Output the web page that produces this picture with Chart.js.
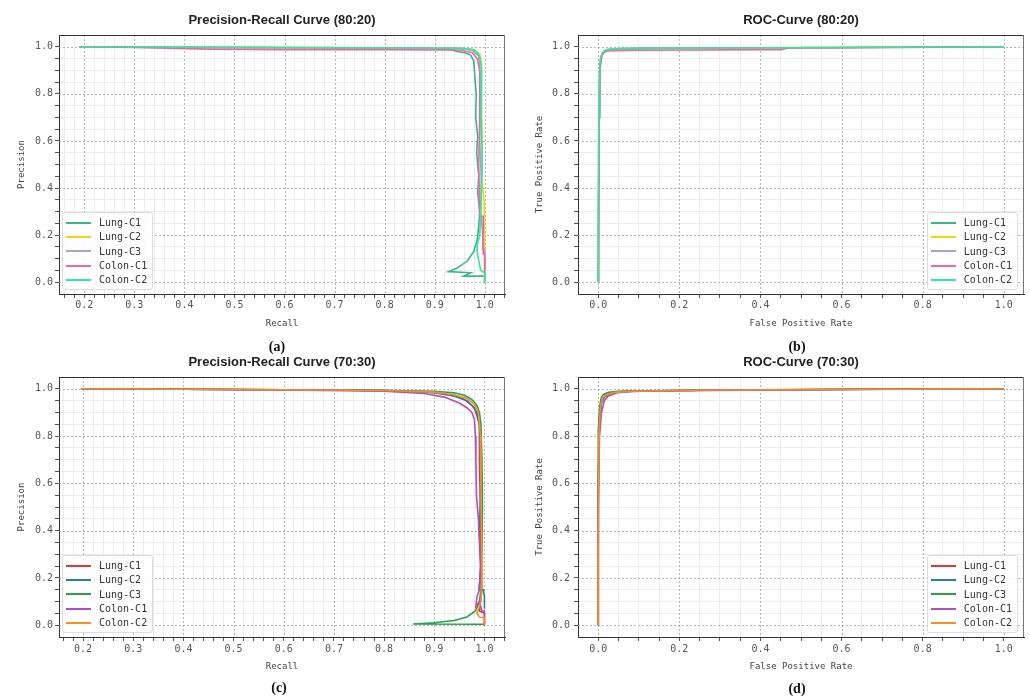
<!DOCTYPE html>
<html>
<head>
<meta charset="utf-8">
<title>PR / ROC curves</title>
<script src="https://cdn.jsdelivr.net/npm/chart.js@4"></script>
<style>
  body { margin: 0; width: 1030px; height: 698px; background: #fff; position: relative; overflow: hidden; }
  .panel { position: absolute; }
  .caption { position: absolute; font: bold 14px "Liberation Serif", "Times New Roman", serif; color: #111; transform: translateX(-50%); line-height: 14px; z-index: 5; }
  .legend { position: absolute; background: rgba(255,255,255,0.85); border: 1px solid #dcdcdc; border-radius: 3px;
            padding: 3px 5px 2px 3px; font: 10px "DejaVu Sans Mono", monospace; color: #333; }
  .legend .row { display: flex; align-items: center; height: 14.3px; white-space: nowrap; }
  .legend .swatch { display: inline-block; width: 25px; height: 2px; margin-right: 8px; }
</style>
</head>
<body>

<div class="panel" id="pa" style="left:0;top:0;width:515px;height:345px"><canvas id="chartA" width="515" height="345"></canvas></div>
<div class="panel" id="pb" style="left:515px;top:0;width:515px;height:345px"><canvas id="chartB" width="515" height="345"></canvas></div>
<div class="panel" id="pc" style="left:0;top:345px;width:515px;height:353px"><canvas id="chartC" width="515" height="353"></canvas></div>
<div class="panel" id="pd" style="left:515px;top:345px;width:515px;height:353px"><canvas id="chartD" width="515" height="353"></canvas></div>

<div class="caption" style="left:277px;top:340px">(a)</div>
<div class="caption" style="left:797px;top:340px">(b)</div>
<div class="caption" style="left:279px;top:681px">(c)</div>
<div class="caption" style="left:797px;top:682px">(d)</div>

<script>
// ---------- data ----------
const seriesNames = ['Lung-C1', 'Lung-C2', 'Lung-C3', 'Colon-C1', 'Colon-C2'];
const colors8020 = ['#3bb391', '#f2d60c', '#ab9fd8', '#f2679d', '#2ee8a5'];
const colors7030 = ['#ee3333', '#2b7bba', '#23a548', '#b04fbf', '#ff8c1f'];

const prMajorX = [0.2, 0.3, 0.4, 0.5, 0.6, 0.7, 0.8, 0.9, 1.0];
const rocMajorX = [0.0, 0.2, 0.4, 0.6, 0.8, 1.0];
const majorY = [0.0, 0.2, 0.4, 0.6, 0.8, 1.0];

// (a) Precision-Recall 80:20  [recall, precision]
const prA_lungC1 = [[0.19,1.0],[0.3,0.999],[0.5,0.997],[0.7,0.995],[0.85,0.994],[0.93,0.99],[0.945,0.98],[0.96,0.975],[0.972,0.965],
  [0.978,0.94],[0.98,0.88],[0.983,0.8],[0.982,0.7],[0.986,0.62],[0.984,0.55],[0.988,0.45],[0.986,0.38],[0.99,0.3],[0.988,0.24],
  [0.985,0.18],[0.978,0.13],[0.965,0.09],[0.945,0.06],[0.928,0.045],[0.972,0.04],[0.958,0.026],[1.0,0.026],[1.0,0.0]];
const prA_lungC2 = [[0.19,1.0],[0.5,0.998],[0.8,0.996],[0.95,0.994],[0.975,0.99],[0.99,0.97],[0.993,0.93],[0.993,0.8],[0.995,0.6],
  [0.994,0.45],[0.998,0.36],[0.999,0.34],[0.999,0.19],[1.0,0.15],[1.0,0.0]];
const prA_lungC3 = [[0.19,1.0],[0.5,0.997],[0.8,0.995],[0.95,0.993],[0.975,0.985],[0.988,0.96],[0.99,0.9],[0.992,0.75],[0.99,0.6],
  [0.993,0.45],[0.992,0.3],[0.996,0.2],[0.996,0.14],[1.0,0.14],[1.0,0.0]];
const prA_colonC1 = [[0.19,1.0],[0.3,0.997],[0.45,0.99],[0.6,0.988],[0.8,0.988],[0.9,0.986],[0.95,0.986],[0.975,0.975],[0.985,0.95],
  [0.99,0.9],[0.99,0.7],[0.988,0.5],[0.99,0.28],[0.997,0.28],[0.997,0.12],[1.0,0.12],[1.0,0.0]];
const prA_colonC2 = [[0.19,1.0],[0.4,0.999],[0.7,0.997],[0.9,0.995],[0.96,0.993],[0.98,0.985],[0.99,0.96],[0.994,0.9],[0.993,0.7],
  [0.995,0.5],[0.993,0.35],[0.99,0.2],[0.985,0.16],[0.985,0.125],[0.992,0.05],[1.0,0.04],[1.0,0.0]];

// (b) ROC 80:20  [fpr, tpr]
const rocB_lungC1 = [[0,0],[0,0.05],[0.002,0.7],[0.004,0.9],[0.008,0.96],[0.015,0.98],[0.03,0.99],[0.1,0.993],[0.3,0.995],[0.6,0.997],[1.0,1.0]];
const rocB_lungC2 = [[0,0],[0.001,0.6],[0.003,0.88],[0.006,0.95],[0.012,0.975],[0.025,0.988],[0.08,0.992],[0.3,0.995],[0.5,0.997],[1.0,1.0]];
const rocB_lungC3 = [[0,0],[0.001,0.65],[0.003,0.9],[0.007,0.96],[0.015,0.98],[0.04,0.99],[0.2,0.994],[0.9,0.998],[1.0,1.0]];
const rocB_colonC1 = [[0,0],[0.002,0.7],[0.005,0.93],[0.01,0.97],[0.02,0.982],[0.1,0.985],[0.45,0.988],[0.47,0.995],[1.0,1.0]];
const rocB_colonC2 = [[0,0],[0,0.3],[0.002,0.8],[0.005,0.95],[0.01,0.975],[0.02,0.988],[0.06,0.993],[0.4,0.996],[1.0,1.0]];

// (c) Precision-Recall 70:30
const prC_lungC1 = [[0.197,1.0],[0.4,0.998],[0.6,0.996],[0.8,0.993],[0.9,0.985],[0.94,0.97],[0.96,0.955],[0.975,0.93],[0.985,0.9],
  [0.99,0.85],[0.99,0.7],[0.992,0.5],[0.993,0.3],[0.995,0.15],[0.99,0.06],[1.0,0.05],[1.0,0.0]];
const prC_lungC2 = [[0.197,1.0],[0.4,0.998],[0.6,0.996],[0.8,0.993],[0.9,0.984],[0.94,0.97],[0.965,0.95],[0.98,0.92],[0.99,0.85],
  [0.993,0.6],[0.99,0.4],[0.993,0.25],[0.989,0.15],[0.998,0.15],[1.0,0.12],[1.0,0.07]];
const prC_lungC3 = [[0.197,1.0],[0.4,0.998],[0.6,0.996],[0.8,0.994],[0.9,0.99],[0.94,0.983],[0.96,0.973],[0.975,0.955],[0.985,0.93],
  [0.99,0.9],[0.993,0.85],[0.995,0.7],[0.996,0.5],[0.995,0.3],[0.993,0.15],[0.99,0.1],[0.982,0.06],[0.965,0.035],[0.94,0.02],
  [0.9,0.01],[0.858,0.005],[1.0,0.004]];
const prC_colonC1 = [[0.197,1.0],[0.4,0.998],[0.6,0.995],[0.8,0.99],[0.88,0.98],[0.92,0.965],[0.95,0.94],[0.965,0.92],[0.975,0.9],
  [0.98,0.87],[0.982,0.8],[0.983,0.7],[0.984,0.55],[0.988,0.45],[0.99,0.35],[0.992,0.25],[0.99,0.15],[0.985,0.12],[0.983,0.08],
  [0.99,0.1],[0.995,0.06],[1.0,0.06],[1.0,0.0]];
const prC_colonC2 = [[0.197,1.0],[0.4,0.998],[0.6,0.996],[0.8,0.993],[0.9,0.986],[0.94,0.975],[0.965,0.96],[0.98,0.935],[0.988,0.9],
  [0.992,0.8],[0.993,0.6],[0.994,0.4],[0.995,0.2],[0.993,0.1],[0.985,0.05],[0.99,0.035],[1.0,0.03],[1.0,0.0]];

// (d) ROC 70:30
const rocD_lungC1 = [[0,0],[0,0.6],[0.002,0.85],[0.006,0.93],[0.012,0.96],[0.02,0.975],[0.04,0.985],[0.08,0.99],[0.3,0.995],[0.6,0.998],[1.0,1.0]];
const rocD_lungC2 = [[0,0],[0,0.55],[0.003,0.87],[0.008,0.94],[0.015,0.965],[0.03,0.98],[0.06,0.99],[0.3,0.995],[1.0,1.0]];
const rocD_lungC3 = [[0,0],[0,0.82],[0.003,0.92],[0.007,0.96],[0.012,0.975],[0.025,0.985],[0.05,0.99],[0.2,0.994],[0.5,0.996],[0.8,1.0],[1.0,1.0]];
const rocD_colonC1 = [[0,0],[0,0.5],[0.003,0.8],[0.008,0.9],[0.015,0.95],[0.025,0.97],[0.05,0.985],[0.1,0.99],[0.4,0.995],[1.0,1.0]];
const rocD_colonC2 = [[0,0],[0,0.33],[0.002,0.82],[0.005,0.92],[0.01,0.96],[0.02,0.975],[0.04,0.985],[0.08,0.99],[0.3,0.995],[1.0,1.0]];

// ---------- helpers ----------
function isMajor(v, step) {
  return Math.abs(v / step - Math.round(v / step)) < 1e-6;
}

function minorTicks(min, max, step) {
  const out = [];
  for (let k = Math.ceil(min / step); k * step <= max; k++) {
    const v = Math.round(k * step * 1e6) / 1e6;
    if (v > min + 1e-6 && v < max - 1e-6) out.push(v);
  }
  return out;
}

// dotted major grid + plot frame
const framePlugin = {
  id: 'frame',
  beforeDatasetsDraw(chart, args, opts) {
    const { ctx, chartArea: a, scales } = chart;
    ctx.save();
    ctx.strokeStyle = '#a3a3a3';
    ctx.lineWidth = 0.8;
    ctx.setLineDash([2, 2]);
    opts.majorX.forEach(v => {
      const x = Math.round(scales.x.getPixelForValue(v)) + 0.5;
      ctx.beginPath(); ctx.moveTo(x, a.top); ctx.lineTo(x, a.bottom); ctx.stroke();
    });
    opts.majorY.forEach(v => {
      const y = Math.round(scales.y.getPixelForValue(v)) + 0.5;
      ctx.beginPath(); ctx.moveTo(a.left, y); ctx.lineTo(a.right, y); ctx.stroke();
    });
    ctx.restore();
  },
  afterDatasetsDraw(chart) {
    const { ctx, chartArea: a } = chart;
    ctx.save();
    ctx.lineWidth = 1;
    ctx.strokeStyle = '#333';
    ctx.beginPath(); ctx.moveTo(a.left, a.top + 0.5); ctx.lineTo(a.right, a.top + 0.5); ctx.stroke();
    ctx.strokeStyle = '#777';
    ctx.beginPath(); ctx.moveTo(a.right - 0.5, a.top); ctx.lineTo(a.right - 0.5, a.bottom); ctx.stroke();
    ctx.restore();
  }
};

function axisOptions(o) {
  return {
    type: 'linear',
    min: o.min,
    max: o.max,
    afterBuildTicks: s => { s.ticks = minorTicks(o.min, o.max, o.minor).map(v => ({ value: v })); },
    afterFit: s => { if (o.horizontal) s.height = o.size; else s.width = o.size; },
    ticks: {
      autoSkip: false, maxRotation: 0, padding: o.labelPad, color: '#555',
      font: { family: 'DejaVu Sans Mono', size: 10 },
      callback: v => isMajor(v, o.major) ? v.toFixed(1) : ''
    },
    grid: {
      color: c => (c.tick && isMajor(c.tick.value, o.major)) ? 'rgba(0,0,0,0)' : '#ececec',
      lineWidth: 1, tickLength: 4, tickColor: '#555'
    },
    border: { color: '#333', width: 1 },
    title: {
      display: true, text: o.title, color: '#444',
      font: { family: 'DejaVu Sans Mono', size: 9 },
      padding: o.titlePad
    }
  };
}

function drawPanel(id, p) {
  const datasets = p.series.map((pts, i) => ({
    label: seriesNames[i],
    data: pts.map(q => ({ x: q[0], y: q[1] })),
    borderColor: p.colors[i],
    backgroundColor: p.colors[i],
    borderWidth: 1.6,
    pointRadius: 0,
    showLine: true,
    tension: 0,
    order: -i
  }));

  const chart = new Chart(document.getElementById(id), {
    type: 'scatter',
    data: { datasets: datasets },
    options: {
      responsive: false,
      animation: false,
      events: [],
      layout: { padding: { left: 0, right: p.padRight, top: 0, bottom: 0 } },
      plugins: {
        legend: { display: false },
        tooltip: { enabled: false },
        title: {
          display: true, text: p.title, fullSize: false, color: '#222',
          font: { family: 'Liberation Sans, Arial, sans-serif', size: 13, weight: 'bold' },
          padding: { top: p.titleTop, bottom: p.titleBottom }
        },
        frame: { majorX: p.majorX, majorY: majorY }
      },
      scales: {
        x: axisOptions({ horizontal: true, min: p.xMin, max: p.xMax, minor: p.xMinor, major: p.xMajor,
                         size: p.xHeight, labelPad: p.xLabelPad, title: p.xTitle, titlePad: { top: 0, bottom: p.xTitleBottom } }),
        y: axisOptions({ horizontal: false, min: -0.05, max: 1.05, minor: 0.05, major: 0.2,
                         size: p.yWidth, labelPad: p.yLabelPad, title: p.yTitle, titlePad: { top: p.yTitleLeft, bottom: 0 } })
      }
    },
    plugins: [framePlugin]
  });

  // legend box inside the plot
  const box = document.createElement('div');
  box.className = 'legend';
  chart.data.datasets.forEach(d => {
    const row = document.createElement('div');
    row.className = 'row';
    const sw = document.createElement('span');
    sw.className = 'swatch';
    sw.style.background = d.borderColor;
    const tx = document.createElement('span');
    tx.textContent = d.label;
    row.append(sw, tx);
    box.append(row);
  });
  const a = chart.chartArea;
  if (p.legendSide === 'left') box.style.left = (a.left + 3) + 'px';
  else box.style.right = (chart.width - a.right + 6) + 'px';
  box.style.bottom = (chart.height - a.bottom + 4) + 'px';
  chart.canvas.parentNode.appendChild(box);
  return chart;
}

// ---------- panels ----------
drawPanel('chartA', {
  title: 'Precision-Recall Curve (80:20)', xTitle: 'Recall', yTitle: 'Precision',
  series: [prA_lungC1, prA_lungC2, prA_lungC3, prA_colonC1, prA_colonC2], colors: colors8020,
  xMin: 0.1495, xMax: 1.0405, xMinor: 0.02, xMajor: 0.1, majorX: prMajorX,
  padRight: 10, titleTop: 12.2, titleBottom: 7.2, xHeight: 51, xLabelPad: 1, xTitleBottom: 15.6,
  yWidth: 59, yLabelPad: 2, yTitleLeft: 16.6, legendSide: 'left'
});

drawPanel('chartB', {
  title: 'ROC-Curve (80:20)', xTitle: 'False Positive Rate', yTitle: 'True Positive Rate',
  series: [rocB_lungC1, rocB_lungC2, rocB_lungC3, rocB_colonC1, rocB_colonC2], colors: colors8020,
  xMin: -0.05, xMax: 1.05, xMinor: 0.05, xMajor: 0.2, majorX: rocMajorX,
  padRight: 6, titleTop: 12.2, titleBottom: 7.2, xHeight: 51, xLabelPad: 1, xTitleBottom: 15.6,
  yWidth: 63, yLabelPad: 4, yTitleLeft: 19, legendSide: 'right'
});

drawPanel('chartC', {
  title: 'Precision-Recall Curve (70:30)', xTitle: 'Recall', yTitle: 'Precision',
  series: [prC_lungC1, prC_lungC2, prC_lungC3, prC_colonC1, prC_colonC2], colors: colors7030,
  xMin: 0.152, xMax: 1.041, xMinor: 0.02, xMajor: 0.1, majorX: prMajorX,
  padRight: 10, titleTop: 9.2, titleBottom: 7.2, xHeight: 61, xLabelPad: 2, xTitleBottom: 25.6,
  yWidth: 59, yLabelPad: 2, yTitleLeft: 16.6, legendSide: 'left'
});

drawPanel('chartD', {
  title: 'ROC-Curve (70:30)', xTitle: 'False Positive Rate', yTitle: 'True Positive Rate',
  series: [rocD_lungC1, rocD_lungC2, rocD_lungC3, rocD_colonC1, rocD_colonC2], colors: colors7030,
  xMin: -0.05, xMax: 1.05, xMinor: 0.05, xMajor: 0.2, majorX: rocMajorX,
  padRight: 6, titleTop: 9.2, titleBottom: 7.2, xHeight: 61, xLabelPad: 2, xTitleBottom: 25.6,
  yWidth: 63, yLabelPad: 4, yTitleLeft: 19, legendSide: 'right'
});
</script>
</body>
</html>
